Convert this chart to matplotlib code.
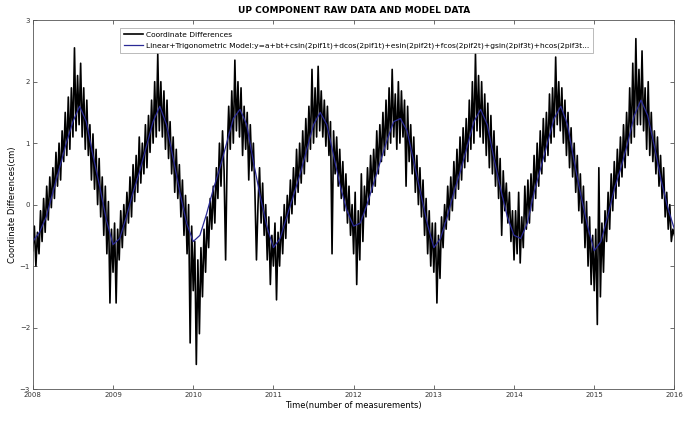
import numpy as np
import matplotlib
matplotlib.use('Agg')
import matplotlib.pyplot as plt

# weekly raw coordinate differences (cm), one row per year 2008..2015
raw_2008 = [-0.75, -0.35, -1.0, -0.45, -0.8, -0.1, -0.6, 0.1, -0.45, 0.3, -0.25, 0.45, -0.05, 0.6, 0.1, 0.85,
            0.3, 1.0, 0.4, 1.2, 0.7, 1.5, 0.8, 1.75, 0.9, 1.9, 1.1, 2.55, 1.2, 2.1, 1.3, 2.3, 1.1, 1.9, 0.9, 1.7,
            0.8, 1.3, 0.4, 1.15, 0.25, 0.9, 0.0, 0.75, -0.2, 0.45, -0.5, 0.3, -0.8, 0.05, -1.6, -0.4]
raw_2009 = [-1.1, -0.3, -1.6, -0.4, -0.9, -0.1, -0.7, 0.0, -0.5, 0.2, -0.3, 0.45, -0.2, 0.65, 0.05, 0.8,
            0.2, 1.1, 0.35, 1.0, 0.5, 1.3, 0.6, 1.45, 0.85, 1.7, 1.0, 2.0, 1.1, 2.45, 1.2, 2.0, 1.1, 1.85, 0.9, 1.7,
            0.75, 1.35, 0.5, 1.1, 0.2, 0.9, 0.1, 0.65, -0.2, 0.4, -0.5, 0.15, -0.8, 0.0, -2.25, -0.35]
raw_2010 = [-1.4, -0.6, -2.6, -0.9, -2.1, -0.7, -1.5, -0.4, -1.1, -0.2, -0.7, 0.1, -0.4, 0.3, -0.3, 0.6,
            0.1, 1.0, 0.3, 1.2, 0.55, -0.9, 0.8, 1.6, 0.9, 1.85, 1.0, 2.35, 1.2, 2.0, 1.1, 1.9, 0.8, 1.6, 0.9, 1.5,
            0.4, 1.3, 0.55, 1.0, 0.2, -0.9, 0.0, 0.6, -0.3, 0.35, -0.5, 0.0, -0.9, -0.2, -1.3, -0.5]
raw_2011 = [-1.0, -0.3, -1.55, -0.45, -1.0, -0.2, -0.8, 0.0, -0.55, 0.15, -0.3, 0.4, -0.15, 0.6, 0.0, 0.9,
            0.2, 1.0, 0.35, 1.2, 0.5, 1.4, 0.7, 1.6, 0.9, 2.2, 1.0, 1.9, 1.1, 2.25, 1.2, 1.85, 1.1, 1.7, 0.95, 1.6,
            0.8, 1.35, -0.8, 1.2, 0.5, 1.1, 0.3, 0.9, 0.1, 0.7, -0.1, 0.5, -0.3, 0.3, -0.5, 0.0]
raw_2012 = [-0.8, 0.2, -1.3, -0.1, -0.9, 0.5, -0.6, 0.3, -0.2, 0.6, 0.0, 0.8, 0.2, 0.9, 0.3, 1.2,
            0.5, 1.3, 0.7, 1.5, 0.8, 1.7, 0.9, 1.9, 1.0, 2.2, 1.1, 1.8, 0.9, 2.0, 1.0, 1.85, 1.1, 1.7, 0.3, 1.6,
            0.7, 1.3, 0.5, 1.1, 0.2, 0.8, 0.0, 0.6, -0.2, 0.4, -0.5, 0.1, -0.8, -0.1, -1.0, -0.3]
raw_2013 = [-1.1, -0.3, -1.6, -0.5, -1.2, -0.2, -0.7, 0.0, -0.4, 0.3, -0.25, 0.45, -0.1, 0.7, 0.1, 0.9,
            0.25, 1.1, 0.4, 1.25, 0.6, 1.4, 0.7, 1.7, 0.9, 2.0, 1.0, 2.45, 1.2, 2.1, 1.1, 2.0, 1.0, 1.8, 0.8, 1.65,
            0.6, 1.45, 0.5, 1.2, 0.3, 0.95, 0.1, 0.75, -0.5, 0.55, -0.1, 0.35, -0.3, 0.2, -0.6, -0.1]
raw_2014 = [-0.9, -0.1, -0.8, 0.2, -0.95, -0.2, -0.7, 0.3, -0.4, 0.4, -0.3, 0.5, -0.1, 0.8, 0.1, 1.0,
            0.3, 1.2, 0.5, 1.4, 0.7, 1.5, 0.8, 1.8, 1.0, 1.9, 1.1, 2.4, 1.3, 2.0, 1.2, 1.9, 1.0, 1.7, 0.8, 1.5,
            0.6, 1.25, 0.45, 1.0, 0.2, 0.8, -0.1, 0.5, -0.3, 0.3, -0.7, 0.05, -1.0, -0.2, -1.3, -0.5]
raw_2015 = [-1.4, -0.4, -1.95, 0.6, -1.5, -0.3, -1.1, -0.1, -0.6, 0.2, -0.4, 0.5, -0.1, 0.7, 0.1, 0.9,
            0.3, 1.1, 0.45, 1.3, 0.6, 1.5, 0.8, 1.9, 1.0, 2.3, 1.1, 2.7, 1.3, 2.2, 1.3, 2.5, 1.2, 1.9, 0.9, 2.0,
            0.8, 1.5, 0.7, 1.2, 0.5, 1.1, 0.3, 0.8, 0.1, 0.6, -0.2, 0.2, -0.4, 0.0, -0.6, -0.4, -0.5]

# monthly values of the fitted linear + trigonometric model (cm)
model_2008 = [-0.6, -0.45, -0.2, 0.2, 0.6, 1.0, 1.35, 1.6, 1.35, 0.8, 0.3, -0.25]
model_2009 = [-0.65, -0.55, -0.2, 0.2, 0.55, 0.95, 1.35, 1.6, 1.3, 0.75, 0.2, -0.3]
model_2010 = [-0.6, -0.5, -0.15, 0.25, 0.6, 1.0, 1.4, 1.55, 1.3, 0.7, 0.15, -0.35]
model_2011 = [-0.7, -0.55, -0.2, 0.15, 0.5, 0.9, 1.3, 1.5, 1.3, 0.8, 0.3, -0.1]
model_2012 = [-0.35, -0.3, 0.0, 0.35, 0.7, 1.05, 1.35, 1.4, 1.2, 0.7, 0.2, -0.3]
model_2013 = [-0.7, -0.55, -0.2, 0.2, 0.55, 0.95, 1.35, 1.55, 1.3, 0.75, 0.25, -0.2]
model_2014 = [-0.5, -0.55, -0.3, 0.2, 0.6, 1.0, 1.4, 1.6, 1.3, 0.7, 0.15, -0.35]
model_2015 = [-0.75, -0.6, -0.2, 0.25, 0.6, 1.0, 1.45, 1.7, 1.45, 0.95, 0.4, -0.05, -0.4]

years = [2008, 2009, 2010, 2011, 2012, 2013, 2014, 2015, 2016]
year_labels = ['2008', '2009', '2010', '2011', '2012', '2013', '2014', '2015', '2016']

raw = np.array(raw_2008 + raw_2009 + raw_2010 + raw_2011 + raw_2012 + raw_2013 + raw_2014 + raw_2015)
model = np.array(model_2008 + model_2009 + model_2010 + model_2011 + model_2012 + model_2013 + model_2014 + model_2015)
t_raw = np.linspace(2008, 2016, len(raw))
t_model = np.linspace(2008, 2016, len(model))

fig = plt.figure(figsize=(6.84, 4.21), dpi=100)
ax = fig.add_axes([0.048, 0.076, 0.938, 0.876])

ax.plot(t_raw, raw, color='black', lw=1.2, label='Coordinate Differences')
ax.plot(t_model, model, color='#2a2a96', lw=0.9,
        label='Linear+Trigonometric Model:y=a+bt+csin(2pif1t)+dcos(2pif1t)+esin(2pif2t)'
              '+fcos(2pif2t)+gsin(2pif3t)+hcos(2pif3t...')

ax.set_xlim(2008, 2016)
ax.set_ylim(-3, 3)
ax.set_xticks(years)
ax.set_xticklabels(year_labels)
ax.set_yticks([-3, -2, -1, 0, 1, 2, 3])
ax.tick_params(direction='in', top=True, right=True, labelsize=5, length=3, width=0.5,
               colors='#333333', pad=2)
for s in ax.spines.values():
    s.set_linewidth(0.6)
    s.set_color('#555555')

ax.set_title('UP COMPONENT RAW DATA AND MODEL DATA', fontsize=6.5, fontweight='bold', pad=5)
ax.set_xlabel('Time(number of measurements)', fontsize=6, labelpad=2)
ax.set_ylabel('Coordinate Differences(cm)', fontsize=6, labelpad=2)

leg = ax.legend(loc='upper left', bbox_to_anchor=(0.13, 0.99), fontsize=5.4, frameon=True,
                fancybox=False, edgecolor='#888888', handlelength=2.6, borderpad=0.5,
                labelspacing=0.6, handletextpad=0.4)
leg.get_frame().set_linewidth(0.5)

fig.savefig('out.png', dpi=100)
